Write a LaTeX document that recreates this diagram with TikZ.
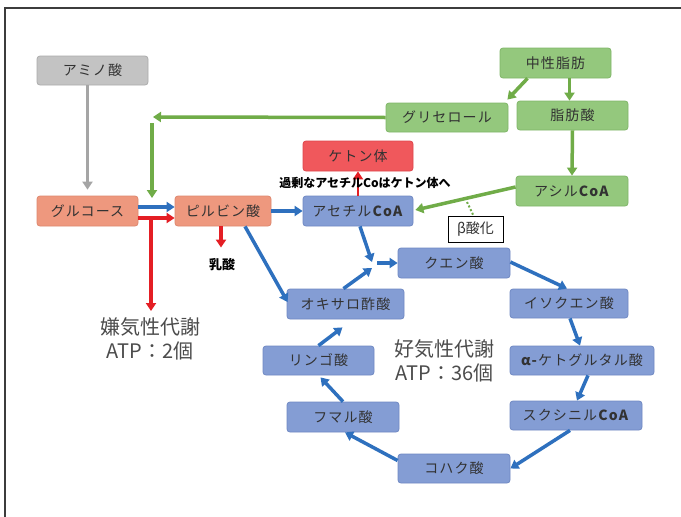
\documentclass[tikz,border=0pt]{standalone}
\usepackage{fontspec}
\setmainfont{Noto Sans CJK JP}
\newfontfamily\boxfont{Noto Sans CJK JP}[LetterSpace=8]
\usetikzlibrary{arrows.meta}
\definecolor{txt}{RGB}{50,50,50}
\definecolor{grayfill}{RGB}{195,195,195}
\definecolor{grayline}{RGB}{172,172,172}
\definecolor{greenfill}{RGB}{148,200,125}
\definecolor{greenline}{RGB}{128,182,105}
\definecolor{salfill}{RGB}{238,152,126}
\definecolor{salline}{RGB}{222,135,110}
\definecolor{redfill}{RGB}{240,88,92}
\definecolor{redline}{RGB}{222,70,75}
\definecolor{bluefill}{RGB}{132,157,212}
\definecolor{blueline}{RGB}{112,137,195}
\definecolor{bluearr}{RGB}{46,112,190}
\definecolor{greenarr}{RGB}{112,172,72}
\definecolor{redarr}{RGB}{228,30,36}
\definecolor{grayarr}{RGB}{165,165,165}
\definecolor{frame}{RGB}{60,60,60}
\tikzset{
  boxbase/.style={rounded corners=3pt, minimum height=30pt, inner sep=0pt, line width=0.8pt,
    font=\boxfont\fontsize{14}{14}\selectfont, text=txt},
  graybox/.style={boxbase, fill=grayfill, draw=grayline},
  greenbox/.style={boxbase, fill=greenfill, draw=greenline},
  salbox/.style={boxbase, fill=salfill, draw=salline},
  redbox/.style={boxbase, fill=redfill, draw=redline},
  bluebox/.style={boxbase, fill=bluefill, draw=blueline},
  betabox/.style={draw=black, line width=0.8pt, fill=white, minimum width=55pt, minimum height=26pt,
    inner sep=0pt, font=\fontsize{14}{14}\selectfont, text=txt},
  tipA/.style={-{Triangle[width=10pt,length=8pt]}},
  barrow/.style={tipA, draw=bluearr, line width=3.5pt},
  garrow/.style={tipA, draw=greenarr, line width=3.5pt},
  rarrow/.style={tipA, draw=redarr, line width=3.5pt},
  grarrow/.style={tipA, draw=grayarr, line width=3pt},
  bigtext/.style={align=center, text=black!70, font=\fontsize{20}{24}\selectfont},
}
\begin{document}
\begin{tikzpicture}[x=1pt,y=-1pt]
\useasboundingbox (0,0) rectangle (681,517);
\fill[white] (0,0) rectangle (681,517);
\draw[line width=1.2pt, frame] (5,517) -- (5,8) -- (681,8);

% nodes
\node[graybox, minimum width=111pt, minimum height=29pt] (amino) at (92.5,70.5) {アミノ酸};
\node[greenbox, minimum width=111pt] (fat) at (555.5,63) {中性脂肪};
\node[greenbox, minimum width=122pt, minimum height=29pt] (glyc) at (447,117.5) {グリセロール};
\node[greenbox, minimum width=111pt, minimum height=29pt] (facid) at (572.5,115.5) {脂肪酸};
\node[greenbox, minimum width=112pt] (acyl) at (572,191) {アシル\textbf{CoA}};
\node[redbox, minimum width=110pt] (ketone) at (358,156) {ケトン体};
\node[salbox, minimum width=101pt] (glucose) at (87.5,211) {グルコース};
\node[salbox, minimum width=96pt] (pyruvate) at (223,211) {ピルビン酸};
\node[bluebox, minimum width=110pt] (acetyl) at (358,211) {アセチル\textbf{CoA}};
\node[betabox] (beta) at (475.5,229) {β酸化};
\node[bluebox, minimum width=112pt] (citric) at (454,263) {クエン酸};
\node[bluebox, minimum width=117pt] (oxalo) at (345.5,304) {オキサロ酢酸};
\node[bluebox, minimum width=118pt, minimum height=29pt] (isocit) at (569,303.5) {イソクエン酸};
\node[bluebox, minimum width=111pt, minimum height=29pt] (malic) at (318.5,360.5) {リンゴ酸};
\node[bluebox, minimum width=144pt, minimum height=29pt] (akg) at (582,360.5) {\textbf{α-}ケトグルタル酸};
\node[bluebox, minimum width=112pt] (fumaric) at (343,417) {フマル酸};
\node[bluebox, minimum width=132pt, minimum height=29pt] (succoa) at (576,415.5) {スクシニル\textbf{CoA}};
\node[bluebox, minimum width=112pt, minimum height=29pt] (succinic) at (454,468.5) {コハク酸};

\node[font=\bfseries\fontsize{13}{13}\selectfont, inner sep=1pt] (lactate) at (222,265) {乳酸};

% coordinates
\coordinate (gcorner) at (153,117);
\coordinate (gdown) at (152,123);
\coordinate (gend) at (152,198);
\coordinate (rtop) at (151,216.5);
\coordinate (rend) at (151,311);
\coordinate (jn) at (372,262);
\coordinate (jn2) at (372,268);
\coordinate (jn3) at (377,263);
\coordinate (dot1) at (467,202);

% arrows
\draw[grarrow] (amino.south -| glucose.north) -- ([yshift=6pt]glucose.north);
\draw[garrow] (glyc.west) -- (gcorner);
\draw[garrow] (gdown) -- (gend);
\draw[garrow] ([xshift=-28pt]fat.south) -- ([xshift=-1pt,yshift=3pt]glyc.north east);
\draw[garrow] ([xshift=14pt]fat.south) -- ([xshift=14pt]fat.south |- facid.north);
\draw[garrow] (facid.south) -- (acyl.north);
\draw[garrow] ([yshift=4pt]acyl.west) -- ([xshift=2pt,yshift=1pt]acetyl.east);
\draw[greenarr, line width=2pt, dotted] (dot1) -- ([xshift=-2pt]beta.north);
\draw[barrow] ([yshift=4pt]glucose.east) -- ([yshift=4pt]pyruvate.west);
\draw[rarrow] ([yshift=-7pt]glucose.east) -- ([yshift=-7pt]pyruvate.west);
\draw[rarrow] (rtop) -- (rend);
\draw[barrow] (pyruvate.east) -- (acetyl.west);
\draw[rarrow] ([xshift=-2pt]pyruvate.south) -- ([xshift=-1pt,yshift=10pt]lactate.north);
\draw[tipA, draw=redarr, line width=2.5pt] (acetyl.north) -- (ketone.south);
\draw[barrow] ([xshift=22pt]pyruvate.south) -- ([xshift=1pt,yshift=2pt]oxalo.west);
\draw[barrow] ([xshift=2pt]acetyl.south) -- (jn);
\draw[barrow] ([xshift=-2pt]oxalo.north) -- (jn2);
\draw[barrow] (jn3) -- (citric.west);
\draw[barrow] ([yshift=1pt]citric.east) -- ([xshift=-2pt]isocit.north);
\draw[barrow] ([xshift=1pt]isocit.south) -- ([xshift=-2pt]akg.north);
\draw[barrow] ([xshift=6pt]akg.south) -- ([xshift=1pt]succoa.north);
\draw[barrow] ([xshift=-6pt]succoa.south) -- (succinic.east);
\draw[barrow] ([yshift=8pt]succinic.west) -- ([xshift=2pt]fumaric.south);
\draw[barrow] (fumaric.north) -- ([xshift=2pt,yshift=-2pt]malic.south);
\draw[barrow] (malic.north) -- ([xshift=-3pt,yshift=-8pt]oxalo.south);

% texts drawn over arrows
\node[font=\bfseries\fontsize{12}{12}\selectfont, inner sep=0pt] (excess) at (365,183) {過剰なアセチル\textbf{Co}はケトン体へ};
\node[bigtext] (anaer) at (150,338.5) {嫌気性代謝\\ATP：2個};
\node[bigtext] (aer) at (444.5,361) {好気性代謝\\ATP：36個};
\end{tikzpicture}
\end{document}
